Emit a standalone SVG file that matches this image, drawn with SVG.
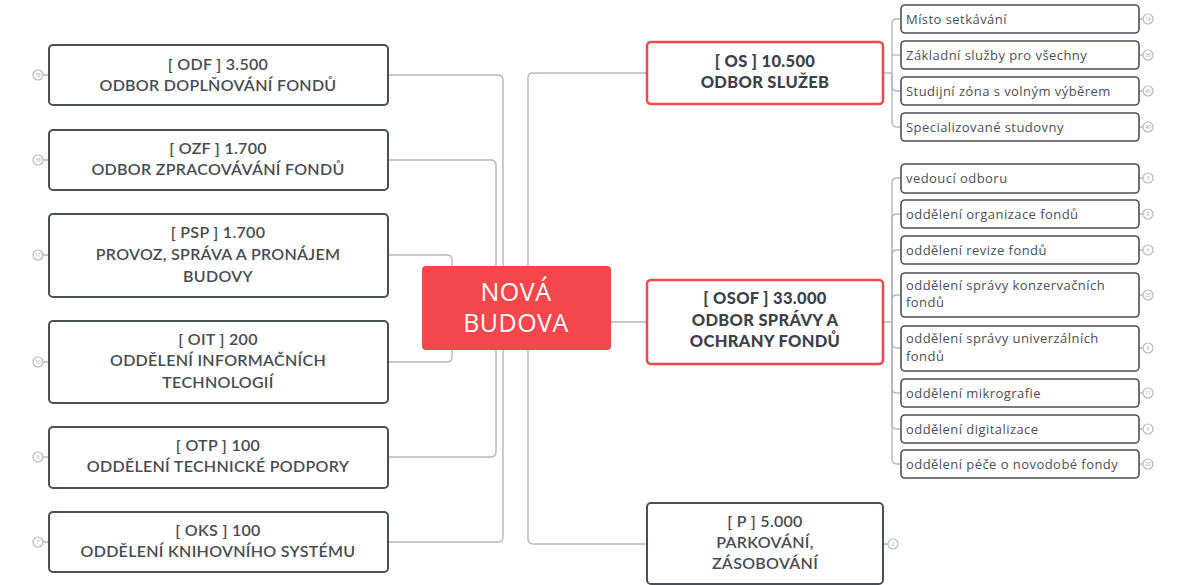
<svg xmlns="http://www.w3.org/2000/svg" width="1186" height="585" viewBox="0 0 1186 585">
<style>
.bg{fill:#ffffff}
.box{fill:#ffffff;stroke:#4b4f58;stroke-width:2}
.rbox{fill:#ffffff;stroke:#f4474a;stroke-width:2.5}
.sbox{fill:#ffffff;stroke:#4b4f58;stroke-width:1.6}
.root{fill:#f5464b}
.con{fill:none;stroke:#b5b8bc;stroke-width:1.4}
.t{font-family:Lato,"Open Sans",sans-serif;font-size:16px;letter-spacing:0.3px;fill:#474b53;text-anchor:middle;font-weight:600}
.tb{font-family:Lato,"Open Sans",sans-serif;font-size:16.5px;letter-spacing:0.3px;fill:#3d4149;text-anchor:middle;font-weight:900}
.tr{font-family:"Open Sans",sans-serif;font-size:25px;letter-spacing:0.5px;fill:#ffffff;text-anchor:middle}
.ts{font-family:"Open Sans",sans-serif;font-size:13px;letter-spacing:0.45px;fill:#4b4f58}
.c{fill:#ffffff;stroke:#b9b9b9;stroke-width:1.2}
.cn{font-family:"Open Sans",sans-serif;font-size:5px;fill:#a8a8a8;text-anchor:middle}
</style>
<rect class="bg" x="0" y="0" width="1186" height="585"/>
<g id="connectors">
<path class="con" d="M503 308 V80 Q503 75 498 75 H388"/>
<path class="con" d="M503 308 V537 Q503 542 498 542 H388"/>
<path class="con" d="M496 308 V165 Q496 160 491 160 H388"/>
<path class="con" d="M496 308 V452 Q496 457 491 457 H388"/>
<path class="con" d="M452 308 V260 Q452 255 447 255 H388"/>
<path class="con" d="M452 308 V357 Q452 362 447 362 H388"/>
<path class="con" d="M528 308 V78 Q528 73 533 73 H647"/>
<path class="con" d="M528 308 V539 Q528 544 533 544 H647"/>
<path class="con" d="M611 322 H647"/>
<path class="con" d="M883 73 H892"/>
<path class="con" d="M892 73 V23 Q892 19 897 19 H901"/>
<path class="con" d="M892 55 Q892 55 897 55 H901"/>
<path class="con" d="M892 73 V86 Q892 91 897 91 H901"/>
<path class="con" d="M892 73 V122 Q892 127 897 127 H901"/>
<path class="con" d="M883 322 H892"/>
<path class="con" d="M892 322 V183 Q892 178 897 178 H901"/>
<path class="con" d="M892 322 V219 Q892 214 897 214 H901"/>
<path class="con" d="M892 322 V255 Q892 250 897 250 H901"/>
<path class="con" d="M892 322 V300 Q892 295 897 295 H901"/>
<path class="con" d="M892 322 V343 Q892 348 897 348 H901"/>
<path class="con" d="M892 322 V388 Q892 393 897 393 H901"/>
<path class="con" d="M892 322 V424 Q892 429 897 429 H901"/>
<path class="con" d="M892 322 V459 Q892 464 897 464 H901"/>
<path class="con" d="M43 75 H49 M43 160 H49 M43 255 H49 M43 362 H49 M43 457 H49 M43 542 H49"/>
<path class="con" d="M1139 19 H1143 M1139 55 H1143 M1139 91 H1143 M1139 127 H1143 M1139 178 H1143 M1139 214 H1143 M1139 250 H1143 M1139 295 H1143 M1139 348 H1143 M1139 393 H1143 M1139 429 H1143 M1139 464 H1143 M883 544 H888"/>
</g>
<g id="root">
<rect class="root" x="422" y="266" width="189" height="84" rx="4"/>
<text class="tr" x="516" y="301">NOVÁ</text>
<text class="tr" x="516" y="332">BUDOVA</text>
</g>
<g id="odf">
<rect class="box" x="49" y="45" width="339" height="60" rx="4"/>
<text class="t" x="218" y="70">[ ODF ] 3.500</text>
<text class="t" x="218" y="91">ODBOR DOPLŇOVÁNÍ FONDŮ</text>
<circle class="c" cx="38" cy="75" r="5"/><text class="cn" x="38" y="76.8">38</text>
</g>
<g id="ozf">
<rect class="box" x="49" y="130" width="339" height="60" rx="4"/>
<text class="t" x="218" y="154">[ OZF ] 1.700</text>
<text class="t" x="218" y="175">ODBOR ZPRACOVÁVÁNÍ FONDŮ</text>
<circle class="c" cx="38" cy="160" r="5"/><text class="cn" x="38" y="161.8">38</text>
</g>
<g id="psp">
<rect class="box" x="49" y="214" width="339" height="83" rx="4"/>
<text class="t" x="218" y="238">[ PSP ] 1.700</text>
<text class="t" x="218" y="260">PROVOZ, SPRÁVA A PRONÁJEM</text>
<text class="t" x="218" y="282">BUDOVY</text>
<circle class="c" cx="38" cy="255" r="5"/><text class="cn" x="38" y="256.8">17</text>
</g>
<g id="oit">
<rect class="box" x="49" y="321" width="339" height="82" rx="4"/>
<text class="t" x="218" y="345">[ OIT ] 200</text>
<text class="t" x="218" y="366">ODDĚLENÍ INFORMAČNÍCH</text>
<text class="t" x="218" y="388">TECHNOLOGIÍ</text>
<circle class="c" cx="38" cy="362" r="5"/><text class="cn" x="38" y="363.8">10</text>
</g>
<g id="otp">
<rect class="box" x="49" y="427" width="339" height="61" rx="4"/>
<text class="t" x="218" y="451">[ OTP ] 100</text>
<text class="t" x="218" y="472">ODDĚLENÍ TECHNICKÉ PODPORY</text>
<circle class="c" cx="38" cy="457" r="5"/><text class="cn" x="38" y="458.8">8</text>
</g>
<g id="oks">
<rect class="box" x="49" y="512" width="339" height="60" rx="4"/>
<text class="t" x="218" y="536">[ OKS ] 100</text>
<text class="t" x="218" y="557">ODDĚLENÍ KNIHOVNÍHO SYSTÉMU</text>
<circle class="c" cx="38" cy="542" r="5"/><text class="cn" x="38" y="543.8">7</text>
</g>
<g id="os">
<rect class="rbox" x="647" y="42" width="236" height="62" rx="4"/>
<text class="tb" x="765" y="67">[ OS ] 10.500</text>
<text class="tb" x="765" y="88">ODBOR SLUŽEB</text>
</g>
<g id="osof">
<rect class="rbox" x="647" y="280" width="236" height="84" rx="4"/>
<text class="tb" x="765" y="304">[ OSOF ] 33.000</text>
<text class="tb" x="765" y="326">ODBOR SPRÁVY A</text>
<text class="tb" x="765" y="347">OCHRANY FONDŮ</text>
</g>
<g id="p">
<rect class="box" x="647" y="503" width="236" height="81" rx="4"/>
<text class="t" x="765" y="527">[ P ] 5.000</text>
<text class="t" x="765" y="548">PARKOVÁNÍ,</text>
<text class="t" x="765" y="569">ZÁSOBOVÁNÍ</text>
<circle class="c" cx="893" cy="544" r="5"/><text class="cn" x="893" y="545.8">2</text>
</g>
<g id="os1"><rect class="sbox" x="901" y="5" width="238" height="28" rx="4"/><text class="ts" x="906" y="23.5">Místo setkávání</text><circle class="c" cx="1148" cy="19" r="5"/><text class="cn" x="1148" y="20.8">14</text></g>
<g id="os2"><rect class="sbox" x="901" y="41" width="238" height="28" rx="4"/><text class="ts" x="906" y="59.5">Základní služby pro všechny</text><circle class="c" cx="1148" cy="55" r="5"/><text class="cn" x="1148" y="56.8">36</text></g>
<g id="os3"><rect class="sbox" x="901" y="77" width="238" height="28" rx="4"/><text class="ts" x="906" y="95.5">Studijní zóna s volným výběrem</text><circle class="c" cx="1148" cy="91" r="5"/><text class="cn" x="1148" y="92.8">40</text></g>
<g id="os4"><rect class="sbox" x="901" y="113" width="238" height="28" rx="4"/><text class="ts" x="906" y="131.5">Specializované studovny</text><circle class="c" cx="1148" cy="127" r="5"/><text class="cn" x="1148" y="128.8">49</text></g>
<g id="osof1"><rect class="sbox" x="901" y="164" width="238" height="29" rx="4"/><text class="ts" x="906" y="182.5">vedoucí odboru</text><circle class="c" cx="1148" cy="178" r="5"/><text class="cn" x="1148" y="179.8">3</text></g>
<g id="osof2"><rect class="sbox" x="901" y="200" width="238" height="28" rx="4"/><text class="ts" x="906" y="218.5">oddělení organizace fondů</text><circle class="c" cx="1148" cy="214" r="5"/><text class="cn" x="1148" y="215.8">6</text></g>
<g id="osof3"><rect class="sbox" x="901" y="236" width="238" height="28" rx="4"/><text class="ts" x="906" y="254.5">oddělení revize fondů</text><circle class="c" cx="1148" cy="250" r="5"/><text class="cn" x="1148" y="251.8">6</text></g>
<g id="osof4"><rect class="sbox" x="901" y="273" width="238" height="44" rx="4"/><text class="ts" x="906" y="290">oddělení správy konzervačních</text><text class="ts" x="906" y="307">fondů</text><circle class="c" cx="1148" cy="295" r="5"/><text class="cn" x="1148" y="296.8">25</text></g>
<g id="osof5"><rect class="sbox" x="901" y="326" width="238" height="45" rx="4"/><text class="ts" x="906" y="343">oddělení správy univerzálních</text><text class="ts" x="906" y="361">fondů</text><circle class="c" cx="1148" cy="348" r="5"/><text class="cn" x="1148" y="349.8">9</text></g>
<g id="osof6"><rect class="sbox" x="901" y="379" width="238" height="28" rx="4"/><text class="ts" x="906" y="397.5">oddělení mikrografie</text><circle class="c" cx="1148" cy="393" r="5"/><text class="cn" x="1148" y="394.8">11</text></g>
<g id="osof7"><rect class="sbox" x="901" y="415" width="238" height="28" rx="4"/><text class="ts" x="906" y="433.5">oddělení digitalizace</text><circle class="c" cx="1148" cy="429" r="5"/><text class="cn" x="1148" y="430.8">6</text></g>
<g id="osof8"><rect class="sbox" x="901" y="450" width="238" height="28" rx="4"/><text class="ts" x="906" y="468.5">oddělení péče o novodobé fondy</text><circle class="c" cx="1148" cy="464" r="5"/><text class="cn" x="1148" y="465.8">29</text></g>
</svg>
